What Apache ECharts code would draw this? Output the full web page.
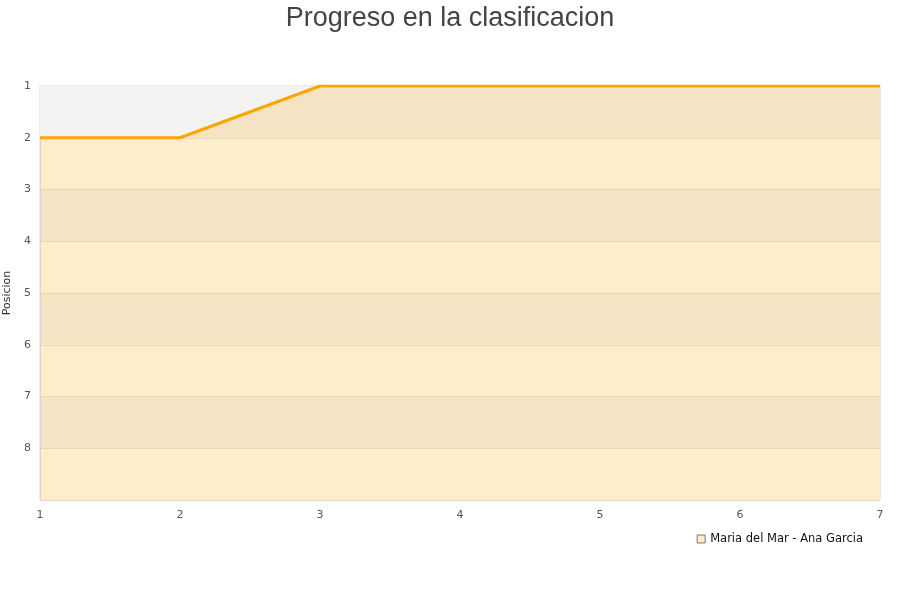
<!DOCTYPE html>
<html><head><meta charset="utf-8">
<script src="https://cdn.jsdelivr.net/npm/echarts@6/dist/echarts.min.js"></script>
<style>html,body{margin:0;padding:0;background:#fff}#c{width:900px;height:600px}</style>
</head><body><div id="c"></div>
<script>
const rounds = ['1','2','3','4','5','6','7'];
const positions = [2, 2, 1, 1, 1, 1, 1];
const seriesName = 'Maria del Mar - Ana Garcia';
const titleText = 'Progreso en la clasificacion';
const yAxisName = 'Posicion';

const chart = echarts.init(document.getElementById('c'));
chart.setOption({
  animation: false,
  title: { text: titleText, left: 'center', top: 0,
    textStyle: { fontFamily: 'Liberation Sans', fontSize: 27, fontWeight: 'normal', color: '#444' } },
  grid: { left: 40, right: 20, top: 86, bottom: 100, show: true, borderColor: '#d6d6d6', borderWidth: 1,
    backgroundColor: 'transparent', containLabel: false, outerBoundsMode: 'none' },
  legend: { right: 32, top: 528, itemWidth: 8, itemHeight: 8, icon: 'rect', itemGap: 10,
    textStyle: { fontFamily: 'DejaVu Sans', fontSize: 11.5, color: '#111' },
    data: [{ name: seriesName, itemStyle: { color: '#ffecc8', borderColor: '#777', borderWidth: 1 } }] },
  xAxis: { type: 'category', data: rounds, boundaryGap: false,
    axisLine: { show: true, lineStyle: { color: '#d6d6d6' } }, axisTick: { show: false },
    axisLabel: { color: '#555', fontFamily: 'DejaVu Sans', fontSize: 11, margin: 10 },
    splitLine: { show: false } },
  yAxis: { type: 'value', inverse: true, min: 1, max: 9, interval: 1,
    name: yAxisName, nameLocation: 'middle', nameGap: 24,
    nameTextStyle: { color: '#333', fontFamily: 'DejaVu Sans', fontSize: 11 },
    axisLine: { show: true, lineStyle: { color: '#d6d6d6' } }, axisTick: { show: false },
    axisLabel: { color: '#555', fontFamily: 'DejaVu Sans', fontSize: 11, margin: 9, padding: [3, 0, 0, 0],
      formatter: v => (v === 9 ? '' : String(v)) },
    splitLine: { show: true, lineStyle: { color: '#ead7b3', width: 1 } },
    splitArea: { show: true, areaStyle: { color: ['#f5e3c3', '#ffecc8'] } } },
  series: [
    { name: '_bg', type: 'line', data: positions, symbol: 'none', silent: true,
      lineStyle: { width: 0, opacity: 0 }, areaStyle: { origin: 'start', color: '#f3f3f3', opacity: 1 }, z: 1 },
    { name: seriesName, type: 'line', data: positions, symbol: 'none',
      lineStyle: { color: '#ffa500', width: 3 }, itemStyle: { color: '#ffecc8' }, z: 3 }
  ]
});
</script></body></html>
